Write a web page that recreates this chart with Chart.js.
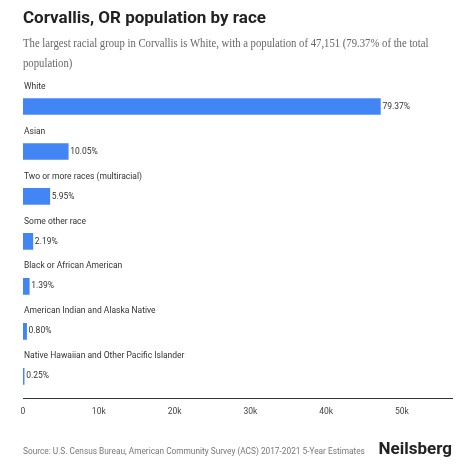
<!DOCTYPE html>
<html><head><meta charset="utf-8">
<script src="https://cdn.jsdelivr.net/npm/chart.js@4/dist/chart.umd.min.js"></script>
<style>
body{margin:0;background:#fff;width:474px;height:474px;position:relative;overflow:hidden;font-family:Roboto,sans-serif}
#title{position:absolute;left:23px;top:7px;font-size:17px;font-weight:bold;color:#222}
#sub{position:absolute;left:23px;top:33px;white-space:nowrap;font-family:"Liberation Serif",serif;font-size:12.6px;line-height:20px;color:#666;transform:scaleX(0.85);transform-origin:left top}
#src{position:absolute;left:23px;top:446px;font-size:8.3px;color:#777}
#logo{position:absolute;right:22px;top:438px;font-size:17px;font-weight:bold;color:#222}
#wrap{position:absolute;left:0;top:0;width:474px;height:474px}
</style></head><body>
<div id="wrap"><canvas id="c"></canvas></div>
<div id="title">Corvallis, OR population by race</div>
<div id="sub">The largest racial group in Corvallis is White, with a population of 47,151 (79.37% of the total<br>population)</div>
<div id="src">Source: U.S. Census Bureau, American Community Survey (ACS) 2017-2021 5-Year Estimates</div>
<div id="logo">Neilsberg</div>
<script>
// Data
const categories = ['White', 'Asian', 'Two or more races (multiracial)', 'Some other race', 'Black or African American', 'American Indian and Alaska Native', 'Native Hawaiian and Other Pacific Islander'];
const population = [47151, 5970, 3535, 1301, 826, 475, 149];
const percents = ['79.37%', '10.05%', '5.95%', '2.19%', '1.39%', '0.80%', '0.25%'];
const xTicks = [0, 10000, 20000, 30000, 40000, 50000];

// draws the category name above each bar and percentage after it
const barLabels = {
  id: 'barLabels',
  afterDatasetsDraw(chart) {
    const ctx = chart.ctx;
    const meta = chart.getDatasetMeta(0);
    ctx.save();
    ctx.font = '8.5px Roboto';
    ctx.fillStyle = '#333';
    ctx.textBaseline = 'middle';
    meta.data.forEach((bar, i) => {
      ctx.textAlign = 'left';
      ctx.fillText(categories[i], chart.chartArea.left + 1, bar.y - 20);
      ctx.fillText(percents[i], bar.x + 2, bar.y);
    });
    ctx.restore();
  }
};

new Chart(document.getElementById('c'), {
  type: 'bar',
  data: {
    labels: categories,
    datasets: [{ data: population, backgroundColor: '#4285f4', barThickness: 16 }]
  },
  options: {
    indexAxis: 'y',
    responsive: true,
    maintainAspectRatio: false,
    animation: false,
    layout: { padding: { left: 23, right: 22, top: 84, bottom: 57 } },
    plugins: { legend: { display: false }, tooltip: { enabled: false } },
    scales: {
      y: { display: false },
      x: {
        min: 0, max: 56600,
        afterBuildTicks: axis => { axis.ticks = xTicks.map(v => ({ value: v })); },
        grid: { display: false, drawTicks: true },
        border: { color: '#333' },
        ticks: { padding: 0, color: '#444', font: { size: 8.5, family: 'Roboto' }, callback: v => v === 0 ? '0' : (v / 1000) + 'k' }
      }
    }
  },
  plugins: [barLabels]
});
</script>
</body></html>
